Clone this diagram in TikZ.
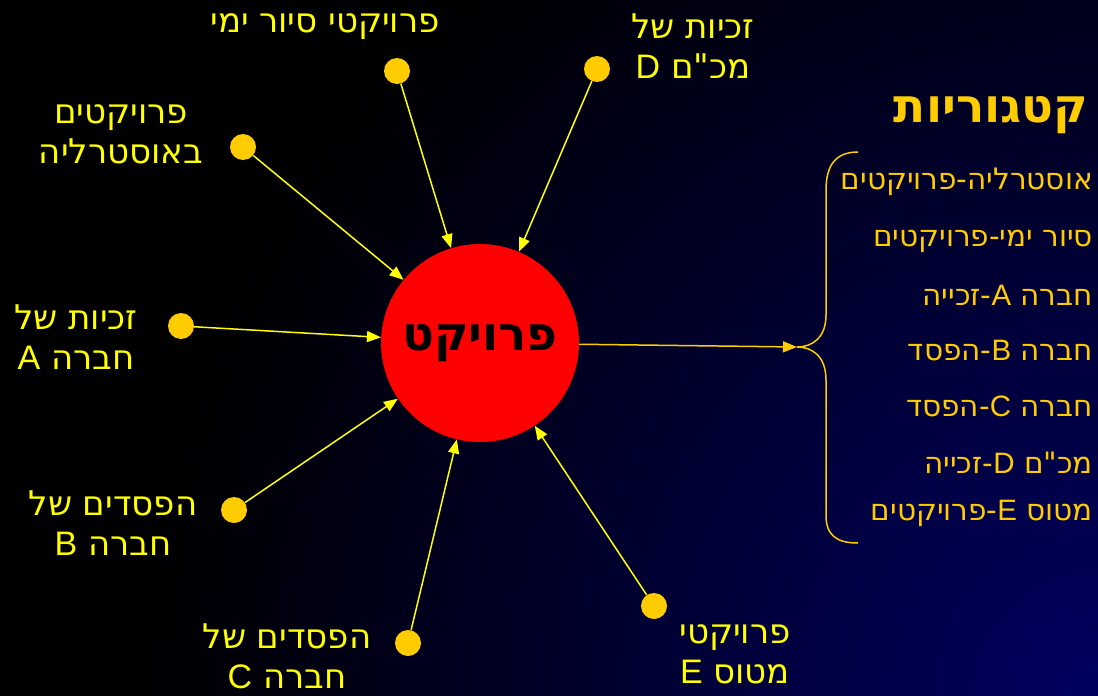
\documentclass[tikz,border=0pt]{standalone}
\usepackage{fontspec}
\setmainfont{Liberation Sans}
\newfontfamily\hebfont[Script=Hebrew]{DejaVu Sans}
\newfontfamily\latfont{Liberation Sans}
\TeXXeTstate=1
\usepackage{xcolor}
\definecolor{gold}{HTML}{FFCC00}
\definecolor{lemon}{HTML}{FFFF00}
\definecolor{projred}{HTML}{FF0000}
\definecolor{deepnavy}{HTML}{000060}
\usetikzlibrary{arrows.meta,positioning}
\tikzset{
  >={Triangle[length=14pt,width=11pt]},
  dot/.style    ={circle,fill=gold,minimum size=26pt,inner sep=0pt},
  lbl/.style    ={text=lemon,font=\hebfont\fontsize{34}{40}\selectfont,
                  align=center,inner sep=0pt},
  cat/.style    ={text=gold,font=\hebfont\fontsize{29.5}{34}\selectfont,
                  anchor=east,inner sep=0pt},
  feed/.style   ={->,draw=lemon,line width=1.5pt},
  sum/.style    ={->,draw=gold,line width=1.5pt},
}
\newcommand{\rtltext}[1]{\beginR #1\endR}
\newcommand{\lt}[1]{{\latfont #1}}

\begin{document}
\begin{tikzpicture}[x=1pt,y=-1pt]
\useasboundingbox (0,0) rectangle (1098,696);
% background
\fill[black] (0,0) rectangle (1098,696);
\begin{scope}
\clip (0,0) rectangle (1098,696);
\shade[inner color=deepnavy,outer color=black] (1098,696) circle (960pt);
\end{scope}
% project
\node[circle,fill=projred,minimum size=198pt,inner sep=0pt,
      font=\hebfont\bfseries\fontsize{47}{47}\selectfont] (proj) at (480,343) {\rtltext{פרויקט}};
% sources
\node[dot] (dSea) at (397,71) {};
\node[lbl] (tSea) at (325,27) {\rtltext{פרויקטי סיור ימי}};
\node[dot] (dD) at (597,69) {};
\node[lbl] (tD) at (693,46) {\rtltext{זכיות של}\\\rtltext{מכ"ם \lt{D}}};
\node[dot] (dAus) at (243,147) {};
\node[lbl] (tAus) at (121,134) {\rtltext{פרויקטים}\\\rtltext{באוסטרליה}};
\node[dot] (dA) at (181,326) {};
\node[lbl] (tA) at (76,337) {\rtltext{זכיות של}\\\rtltext{חברה \lt{A}}};
\node[dot] (dB) at (234,510) {};
\node[lbl] (tB) at (113,523) {\rtltext{הפסדים של}\\\rtltext{חברה \lt{B}}};
\node[dot] (dC) at (408,643) {};
\node[lbl] (tC) at (287,656) {\rtltext{הפסדים של}\\\rtltext{חברה \lt{C}}};
\node[dot] (dE) at (654,606) {};
\node[lbl] (tE) at (735,654) {\rtltext{פרויקטי}\\\rtltext{מטוס \lt{E}}};
\draw[feed] (dSea) -- (proj);
\draw[feed] (dD) -- (proj);
\draw[feed] (dAus) -- (proj);
\draw[feed] (dA) -- (proj);
\draw[feed] (dB) -- (proj);
\draw[feed] (dC) -- (proj);
\draw[feed] (dE) -- (proj);
% categories
\coordinate (tip) at (797,347);
\draw[sum] (proj) -- (tip);
\draw[gold,line width=1.5pt] (858,152) .. controls (836,152) and (826,165) .. (826,190)
  -- (826,315) .. controls (826,338) and (812,347) .. (tip)
  .. controls (812,347) and (826,356) .. (826,380)
  -- (826,515) .. controls (826,535) and (836,543) .. (858,543);
\node[text=gold,inner sep=0pt,font=\hebfont\bfseries\fontsize{47}{47}\selectfont] (catTitle) at (991,115) {\rtltext{קטגוריות}};
\node[cat] (c1) at (1093,182) {\rtltext{אוסטרליה-פרויקטים}};
\node[cat] (c2) at (1093,241) {\rtltext{סיור ימי-פרויקטים}};
\node[cat] (c3) at (1093,295) {\rtltext{חברה \lt{A}\kern0pt-\kern0pt זכייה}};
\node[cat] (c4) at (1093,351) {\rtltext{חברה \lt{B}\kern0pt-\kern0pt הפסד}};
\node[cat] (c5) at (1093,406) {\rtltext{חברה \lt{C}\kern0pt-\kern0pt הפסד}};
\node[cat] (c6) at (1093,463) {\rtltext{מכ"ם \lt{D}\kern0pt-\kern0pt זכייה}};
\node[cat] (c7) at (1093,513) {\rtltext{מטוס \lt{E}\kern0pt-\kern0pt פרויקטים}};
\end{tikzpicture}
\end{document}
